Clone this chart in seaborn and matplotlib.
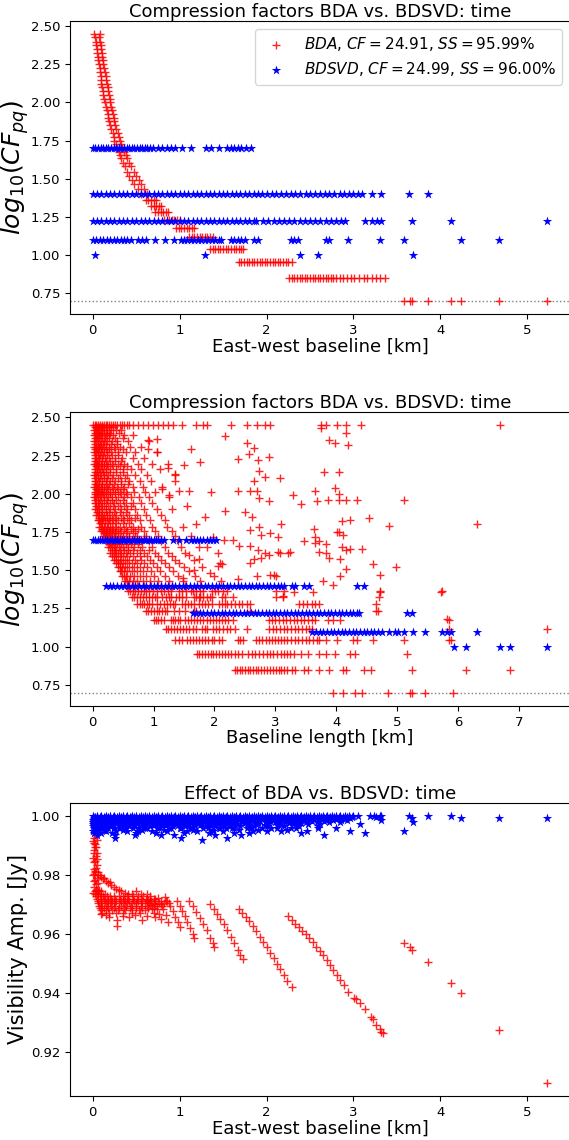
import numpy as np
import pandas as pd
import matplotlib
matplotlib.use("Agg")
import matplotlib.pyplot as plt
import seaborn as sns

plt.rcParams['font.family'] = ['DejaVu Sans']
plt.rcParams['mathtext.fontset'] = 'dejavusans'

# ---------------- labels ----------------
TITLE_CF = "Compression factors BDA vs. BDSVD: time"
TITLE_AMP = "Effect of BDA vs. BDSVD: time"
XLABEL_EW = "East-west baseline [km]"
XLABEL_BL = "Baseline length [km]"
YLABEL_CF = r"$log_{10}(CF_{pq})$"
YLABEL_AMP = "Visibility Amp. [Jy]"
LABEL_BDA = r"$BDA$, $CF = 24.91$, $SS = 95.99\%$"
LABEL_SVD = r"$BDSVD$, $CF = 24.99$, $SS = 96.00\%$"
CF_FLOOR = 5

# ---------------- panel 1: BDA vs east-west baseline ----------------
ew_curve_cf = [280, 270, 251, 240, 225, 212, 200, 189, 178, 168, 158, 149, 141, 133, 126, 119,
               112, 106, 100, 94, 89, 84, 79, 75, 71, 67, 63, 59, 56, 53, 50, 47, 45, 43, 40,
               38, 35, 33, 31, 29, 27, 25]
ew_curve_x_in = [0.02, 0.03, 0.04, 0.04, 0.05, 0.05, 0.06, 0.06, 0.07, 0.08, 0.08, 0.09, 0.10,
                 0.10, 0.11, 0.12, 0.12, 0.13, 0.14, 0.15, 0.16, 0.17, 0.18, 0.19, 0.20, 0.21,
                 0.23, 0.24, 0.25, 0.27, 0.28, 0.30, 0.31, 0.33, 0.35, 0.37, 0.40, 0.42, 0.45,
                 0.48, 0.52, 0.55]
ew_curve_x_out = [0.08, 0.07, 0.08, 0.09, 0.10, 0.11, 0.11, 0.12, 0.12, 0.13, 0.14, 0.15, 0.15,
                  0.16, 0.17, 0.18, 0.19, 0.20, 0.20, 0.21, 0.22, 0.23, 0.24, 0.25, 0.26, 0.27,
                  0.29, 0.30, 0.31, 0.33, 0.34, 0.36, 0.38, 0.40, 0.42, 0.44, 0.47, 0.50, 0.53,
                  0.56, 0.59, 0.62]

ew_bda_levels = [23, 21, 19, 17, 15, 13, 11, 9, 7, 5]
ew_bda_rows = [
    [0.61, 0.64, 0.67, 0.70, 0.73],
    [0.67, 0.70, 0.73, 0.76, 0.78],
    [0.72, 0.75, 0.78, 0.81, 0.84, 0.87],
    [0.82, 0.85, 0.88, 0.91, 0.94, 0.97, 1.00],
    [0.96, 0.99, 1.02, 1.05, 1.08, 1.11, 1.14, 1.17],
    [1.11, 1.14, 1.17, 1.20, 1.23, 1.26, 1.29, 1.32, 1.35, 1.38],
    [1.35, 1.38, 1.41, 1.44, 1.47, 1.50, 1.53, 1.56, 1.59, 1.62, 1.65, 1.68, 1.71, 1.73],
    [1.68, 1.71, 1.74, 1.77, 1.80, 1.83, 1.86, 1.89, 1.92, 1.95, 1.98, 2.01, 2.04, 2.07,
     2.10, 2.13, 2.16, 2.19, 2.22, 2.25, 2.29],
    [2.26, 2.29, 2.32, 2.35, 2.38, 2.41, 2.44, 2.47, 2.50, 2.53, 2.56, 2.59, 2.62, 2.65,
     2.68, 2.71, 2.74, 2.77, 2.80, 2.84, 2.88, 2.93, 2.97, 3.01, 3.06, 3.12, 3.16, 3.21,
     3.26, 3.31, 3.36],
    [3.58, 3.65, 3.67, 3.86, 4.12, 4.24, 4.68, 5.23],
]

svd_levels = [50, 25, 50 / 3, 12.5, 10]
ew_svd_rows = [
    [0.0, 0.03, 0.06, 0.09, 0.12, 0.15, 0.18, 0.21, 0.24, 0.27, 0.30, 0.33, 0.36, 0.39, 0.42,
     0.45, 0.48, 0.51, 0.54, 0.57, 0.60, 0.63, 0.66, 0.69, 0.75, 0.80, 0.85, 0.90, 0.95, 1.03,
     1.13, 1.30, 1.36, 1.45, 1.55, 1.59, 1.63, 1.67, 1.71, 1.76, 1.82],
    [0.0, 0.05, 0.1, 0.15, 0.2, 0.25, 0.3, 0.35, 0.4, 0.45, 0.5, 0.55, 0.6, 0.65, 0.7, 0.75,
     0.8, 0.85, 0.9, 0.95, 1.0, 1.05, 1.1, 1.15, 1.2, 1.25, 1.3, 1.35, 1.4, 1.45, 1.5, 1.55,
     1.6, 1.65, 1.7, 1.75, 1.8, 1.85, 1.9, 1.95, 2.0, 2.06, 2.11, 2.17, 2.22, 2.28, 2.33,
     2.39, 2.45, 2.5, 2.56, 2.61, 2.67, 2.72, 2.78, 2.84, 2.89, 2.95, 3.0, 3.05, 3.1, 3.21,
     3.32, 3.64, 3.86],
    [0.0, 0.05, 0.1, 0.15, 0.2, 0.25, 0.3, 0.35, 0.4, 0.45, 0.5, 0.55, 0.6, 0.65, 0.7, 0.75,
     0.8, 0.85, 0.9, 0.95, 1.0, 1.05, 1.1, 1.15, 1.2, 1.25, 1.3, 1.35, 1.4, 1.45, 1.5, 1.55,
     1.6, 1.65, 1.7, 1.75, 1.8, 1.85, 1.88, 1.96, 2.02, 2.08, 2.14, 2.2, 2.26, 2.32, 2.38,
     2.44, 2.5, 2.56, 2.62, 2.68, 2.74, 2.8, 2.86, 2.9, 3.13, 3.21, 3.27, 3.32, 3.67, 4.12,
     5.23],
    [0.0, 0.04, 0.08, 0.12, 0.16, 0.2, 0.24, 0.28, 0.32, 0.36, 0.40, 0.44, 0.52, 0.57, 0.61,
     0.72, 0.83, 0.94, 1.01, 1.05, 1.09, 1.13, 1.17, 1.21, 1.25, 1.29, 1.33, 1.37, 1.41,
     1.45, 1.48, 1.59, 1.63, 1.67, 1.71, 1.75, 1.86, 1.90, 2.28, 2.32, 2.36, 2.68, 2.72,
     2.94, 3.30, 3.58, 4.24, 4.68],
    [0.03, 1.29, 2.38, 2.59, 3.68],
]

# ---------------- panel 2: BDA vs baseline length ----------------
bl_bda_levels = [280, 263, 241, 221, 203, 187, 171, 157, 145, 133, 121, 111, 103, 95, 87, 79,
                 73, 67, 61, 57, 53, 49, 45, 41, 39, 37, 35, 33, 31, 29, 27, 25,
                 23, 21, 19, 17, 15, 13, 11, 9, 7, 5]
bl_bda_rows = [
    [0.0, 0.03, 0.06, 0.09, 0.12, 0.15, 0.18, 0.21, 0.24, 0.27, 0.30, 0.33, 0.36, 0.40, 0.44,
     0.48, 0.52, 0.56, 0.60, 0.67, 0.75, 0.83, 0.91, 0.99, 1.07, 1.15, 1.24, 1.32, 1.47,
     1.70, 1.82, 1.87, 2.27, 2.53, 2.70, 2.83, 2.92, 3.75, 3.83, 4.01, 4.16, 4.41, 6.70],
    [0.02, 0.05, 0.08, 0.11, 0.15, 0.19, 0.24, 0.30, 0.38, 0.47],
    [0.02, 0.05, 0.08, 0.12, 0.16, 0.21, 0.27, 0.34, 0.52, 0.66],
    [0.02, 0.05, 0.09, 0.13, 0.18, 0.23, 0.31, 0.40, 0.58, 0.93],
    [0.02, 0.06, 0.10, 0.14, 0.19, 0.26, 0.35, 0.45, 0.62, 0.80],
    [0.02, 0.05, 0.09, 0.13, 0.18, 0.24, 0.30, 0.42, 0.55, 0.70, 1.05],
    [0.03, 0.06, 0.10, 0.15, 0.20, 0.27, 0.36, 0.48, 0.66, 0.85],
    [0.02, 0.05, 0.09, 0.13, 0.18, 0.24, 0.32, 0.41, 0.52, 0.75, 0.98, 1.23],
    [0.03, 0.07, 0.11, 0.16, 0.22, 0.29, 0.38, 0.50, 0.63, 0.80, 1.10],
    [0.02, 0.05, 0.09, 0.14, 0.19, 0.25, 0.33, 0.44, 0.57, 0.70, 0.90, 1.35],
    [0.03, 0.06, 0.10, 0.15, 0.21, 0.28, 0.36, 0.47, 0.60, 0.78, 0.95],
    [0.02, 0.05, 0.09, 0.13, 0.18, 0.24, 0.31, 0.40, 0.52, 0.66, 0.82, 1.14],
    [0.03, 0.07, 0.11, 0.16, 0.22, 0.29, 0.37, 0.45, 0.55, 0.68, 0.86, 1.02],
    [0.02, 0.05, 0.09, 0.14, 0.19, 0.25, 0.32, 0.41, 0.51, 0.63, 0.76, 0.93, 1.26],
    [0.03, 0.06, 0.10, 0.15, 0.21, 0.28, 0.35, 0.44, 0.54, 0.66, 0.80, 0.98],
    [0.03, 0.07, 0.11, 0.16, 0.22, 0.29, 0.37, 0.46, 0.57, 0.70, 0.85, 1.05, 1.30],
    [0.05, 0.09, 0.13, 0.18, 0.24, 0.31, 0.39, 0.49, 0.60, 0.73, 0.88, 1.12],
    [0.08, 0.11, 0.15, 0.20, 0.26, 0.33, 0.41, 0.51, 0.63, 0.77, 0.94, 1.18],
    [0.11, 0.14, 0.18, 0.23, 0.29, 0.36, 0.44, 0.54, 0.66, 0.80, 0.97, 1.22, 1.48],
    [0.14, 0.17, 0.21, 0.26, 0.32, 0.39, 0.47, 0.57, 0.69, 0.84, 1.02, 1.30],
    [0.17, 0.20, 0.24, 0.29, 0.35, 0.42, 0.50, 0.60, 0.72, 0.88, 1.08, 1.35, 1.62],
    [0.21, 0.24, 0.28, 0.33, 0.39, 0.46, 0.54, 0.64, 0.76, 0.92, 1.12, 1.40],
    [0.25, 0.28, 0.32, 0.37, 0.43, 0.50, 0.58, 0.68, 0.81, 0.97, 1.18, 1.45, 1.75],
    [0.29, 0.32, 0.36, 0.41, 0.47, 0.54, 0.62, 0.72, 0.85, 1.02, 1.24, 1.52],
    [0.32, 0.35, 0.39, 0.44, 0.50, 0.57, 0.66, 0.77, 0.90, 1.08, 1.30],
    [0.35, 0.38, 0.42, 0.47, 0.53, 0.60, 0.69, 0.80, 0.94, 1.12, 1.36, 1.66],
    [0.38, 0.41, 0.45, 0.50, 0.56, 0.64, 0.73, 0.85, 0.99, 1.18, 1.42],
    [0.41, 0.44, 0.48, 0.53, 0.60, 0.68, 0.78, 0.90, 1.05, 1.25, 1.50, 1.80],
    [0.44, 0.47, 0.51, 0.57, 0.64, 0.72, 0.82, 0.95, 1.11, 1.32, 1.58],
    [0.48, 0.51, 0.55, 0.61, 0.68, 0.77, 0.88, 1.01, 1.18, 1.40, 1.68, 2.00],
    [0.53, 0.56, 0.60, 0.66, 0.73, 0.82, 0.94, 1.08, 1.25, 1.48, 1.76, 2.10],
    [0.56, 0.60, 0.66, 0.74, 0.84, 0.96, 1.12, 1.30, 1.52],
    [0.58, 0.62, 0.66, 0.70, 0.74, 0.79, 0.84, 0.88, 0.93, 0.99, 1.05, 1.12, 1.17, 1.23,
     1.28, 1.41, 1.47, 1.53, 1.61, 1.65, 1.69, 1.76, 1.82, 1.96, 2.01, 2.06, 2.14, 2.21,
     3.01, 3.14, 4.72, 5.74],
    [0.64, 0.68, 0.72, 0.77, 0.82, 0.87, 0.92, 0.97, 1.02, 1.06, 1.14, 1.20, 1.25, 1.28,
     1.37, 1.42, 1.47, 1.53, 1.66, 1.70, 1.74, 1.77, 1.82, 1.87, 1.92, 1.96, 2.12, 2.18,
     2.30, 3.01, 3.12, 4.71],
    [0.73, 0.77, 0.81, 0.85, 0.89, 0.93, 0.97, 1.06, 1.11, 1.17, 1.22, 1.27, 1.32, 1.36,
     1.47, 1.52, 1.57, 1.62, 1.66, 1.74, 1.79, 1.84, 1.90, 1.96, 2.07, 2.12, 2.17, 2.20,
     2.28, 2.34, 2.40, 2.45, 2.53, 2.59, 3.39, 3.45, 3.52, 3.60, 3.66, 3.72, 4.66],
    [0.87, 0.91, 0.95, 1.00, 1.05, 1.09, 1.14, 1.18, 1.22, 1.33, 1.41, 1.52, 1.66, 1.70,
     2.59, 4.66, 4.69],
    [1.00, 1.04, 1.08, 1.12, 1.17, 1.28, 1.32, 1.36, 1.40, 1.44, 1.52, 1.56, 1.61, 1.66,
     1.71, 1.77, 1.82, 1.87, 1.92, 1.98, 2.03, 2.08, 2.13, 2.17, 2.23, 2.31, 2.89, 2.95,
     3.00, 3.06, 3.12, 3.18, 3.24, 3.30, 3.36, 3.42, 3.48, 3.54, 3.60, 3.66, 3.86, 3.95,
     4.07, 5.85],
    [1.20, 1.24, 1.28, 1.33, 1.38, 1.44, 1.49, 1.54, 1.59, 1.64, 1.69, 1.79, 1.84, 1.88,
     1.98, 2.03, 2.08, 2.14, 2.20, 2.26, 2.34, 2.53, 2.90, 2.96, 3.02, 3.08, 3.14, 3.20,
     3.26, 3.32, 3.38, 3.44, 3.50, 3.56, 3.60, 5.85, 7.47],
    [1.36, 1.41, 1.47, 1.55, 1.60, 1.65, 1.70, 1.75, 1.80, 1.85, 1.90, 1.96, 2.00, 2.07,
     2.12, 2.38, 2.42, 2.47, 2.68, 2.73, 2.78, 2.84, 2.90, 2.95, 2.99, 3.04, 3.09, 3.15,
     3.20, 3.26, 3.32, 3.38, 3.44, 3.50, 3.56, 3.62, 3.68, 3.72, 3.83, 4.01, 4.28, 4.34,
     4.60, 5.11, 5.88],
    [1.71, 1.75, 1.79, 1.84, 1.89, 1.94, 1.98, 2.03, 2.08, 2.13, 2.17, 2.23, 2.28, 2.33,
     2.38, 2.45, 2.55, 2.62, 2.66, 2.74, 2.80, 2.86, 2.92, 2.97, 3.03, 3.09, 3.15, 3.20,
     3.24, 3.30, 3.42, 3.54, 3.72, 3.83, 3.98, 4.22, 4.31, 5.17],
    [2.33, 2.37, 2.42, 2.46, 2.50, 2.55, 2.58, 2.63, 2.68, 2.72, 2.77, 2.82, 2.86, 2.91,
     2.96, 3.01, 3.06, 3.10, 3.15, 3.20, 3.27, 3.33, 3.48, 3.54, 3.72, 3.89, 4.12, 4.16,
     4.46, 4.57, 5.25, 6.14, 6.86],
    [3.95, 4.12, 4.31, 4.43, 4.85, 5.22, 5.25, 5.46, 5.92],
]

# extra BDA rows filling the dense corner of panel 2 (short baselines)
bl_fill_levels = [272, 251, 231, 211, 195, 179, 164, 151, 139, 127, 115, 107, 99, 91, 83, 76,
                  69, 64, 59, 55, 51, 47, 43]
bl_fill_rows = [
    [0.035, 0.07, 0.105, 0.14, 0.17, 0.21, 0.26, 0.33],
    [0.035, 0.065, 0.10, 0.14, 0.18, 0.23, 0.29, 0.43],
    [0.035, 0.07, 0.11, 0.155, 0.20, 0.27, 0.36, 0.49],
    [0.04, 0.08, 0.12, 0.165, 0.22, 0.30, 0.40],
    [0.035, 0.07, 0.11, 0.155, 0.21, 0.27, 0.37, 0.50],
    [0.045, 0.08, 0.125, 0.175, 0.23, 0.31, 0.42],
    [0.035, 0.07, 0.11, 0.155, 0.21, 0.28, 0.37, 0.46],
    [0.05, 0.09, 0.135, 0.19, 0.25, 0.33, 0.44, 0.56],
    [0.035, 0.07, 0.115, 0.165, 0.22, 0.29, 0.39, 0.50],
    [0.045, 0.08, 0.125, 0.18, 0.24, 0.32, 0.41, 0.53],
    [0.035, 0.07, 0.11, 0.155, 0.21, 0.27, 0.35, 0.46, 0.58],
    [0.05, 0.09, 0.135, 0.19, 0.25, 0.33, 0.41, 0.50],
    [0.035, 0.07, 0.115, 0.165, 0.22, 0.28, 0.36, 0.46, 0.57],
    [0.045, 0.085, 0.125, 0.18, 0.24, 0.31, 0.39, 0.49],
    [0.05, 0.09, 0.135, 0.19, 0.25, 0.33, 0.41, 0.51, 0.63],
    [0.07, 0.11, 0.155, 0.21, 0.27, 0.35, 0.44, 0.54],
    [0.095, 0.13, 0.175, 0.23, 0.29, 0.37, 0.46, 0.57, 0.70],
    [0.125, 0.16, 0.20, 0.25, 0.31, 0.39, 0.49, 0.60],
    [0.155, 0.19, 0.235, 0.28, 0.34, 0.42, 0.52, 0.63, 0.75],
    [0.185, 0.22, 0.265, 0.31, 0.37, 0.45, 0.55, 0.67],
    [0.22, 0.255, 0.30, 0.35, 0.41, 0.49, 0.59, 0.70, 0.84],
    [0.265, 0.30, 0.345, 0.40, 0.46, 0.54, 0.63, 0.75],
    [0.31, 0.345, 0.39, 0.44, 0.51, 0.58, 0.67, 0.78, 0.92],
]

# scattered BDA points of panel 2: (baseline km, log10 CF)
bl_bda_sparse = [
    (2.18, 2.38), (1.62, 2.29), (0.91, 2.35), (1.05, 2.36), (1.05, 2.27), (0.91, 2.29),
    (2.54, 2.33), (2.65, 2.30), (2.56, 2.26), (2.71, 2.22), (2.89, 2.24), (2.38, 2.23),
    (3.75, 2.43), (3.89, 2.35), (3.98, 2.33), (4.16, 2.40), (4.19, 2.32), (3.80, 2.14),
    (4.04, 2.14), (3.98, 2.04), (1.50, 2.19), (1.23, 2.17), (1.35, 2.13), (1.35, 2.08),
    (1.14, 2.03), (1.26, 1.99), (1.41, 2.02), (1.59, 2.02), (2.74, 2.15), (2.83, 2.11),
    (2.65, 2.08), (2.59, 2.02), (2.70, 2.02), (2.74, 1.97), (2.89, 1.95), (3.07, 2.10),
    (2.38, 2.02), (2.18, 1.89), (2.50, 1.88), (2.62, 1.85), (2.59, 1.76), (2.74, 1.78),
    (2.77, 1.73), (2.92, 1.74), (3.09, 1.80), (3.05, 1.72), (3.29, 1.99), (3.42, 1.93),
    (3.66, 2.02), (3.69, 1.95), (3.86, 1.96), (4.04, 1.96), (4.04, 2.00), (4.16, 1.96),
    (4.34, 1.96), (5.11, 1.96), (3.63, 1.77), (3.66, 1.72), (4.01, 1.75), (4.04, 1.75),
    (4.12, 1.73), (4.10, 1.82), (4.22, 1.83), (4.54, 1.84), (4.87, 1.79), (6.32, 1.80),
    (3.48, 1.69), (3.72, 1.69), (3.83, 1.67), (3.72, 1.62), (3.89, 1.58), (4.10, 1.65),
    (4.16, 1.63), (4.22, 1.64), (4.43, 1.64), (4.07, 1.57), (4.16, 1.51), (4.60, 1.54),
    (4.72, 1.47), (4.99, 1.52), (2.06, 1.53), (2.30, 1.70), (2.41, 1.66), (2.59, 1.55),
    (2.65, 1.57), (2.77, 1.58), (2.89, 1.60), (3.04, 1.62), (3.21, 1.61), (2.15, 1.70),
    (2.06, 1.61), (2.09, 1.55), (2.59, 1.66), (2.71, 1.63), (2.83, 1.61), (3.07, 1.61),
    (3.25, 1.62), (3.66, 1.68), (3.83, 1.61), (2.92, 1.47), (2.98, 1.47), (2.38, 1.44),
    (2.12, 1.54), (2.70, 1.46), (3.01, 1.46), (3.78, 1.43), (3.95, 1.40), (4.07, 1.46),
    (4.72, 1.36), (3.12, 1.33), (3.30, 1.36), (3.62, 1.36), (5.72, 1.36), (5.82, 1.18),
    (5.85, 1.04), (1.77, 2.21), (1.95, 2.01), (1.85, 1.85), (1.55, 1.92), (1.70, 1.80),
    (1.98, 1.72), (1.87, 1.65), (1.58, 1.60), (1.75, 1.57), (1.66, 1.50), (1.92, 1.48),
    (1.48, 1.45),
]

bl_svd_rows = [
    [0.0, 0.04, 0.08, 0.12, 0.16, 0.2, 0.24, 0.28, 0.32, 0.36, 0.4, 0.44, 0.48, 0.52, 0.56,
     0.6, 0.64, 0.68, 0.72, 0.76, 0.8, 0.84, 0.88, 0.92, 0.96, 1.0, 1.04, 1.08, 1.12, 1.17,
     1.32, 1.41, 1.53, 1.62, 1.67, 1.72, 1.77, 1.82, 1.87, 1.92, 1.97, 2.03],
    [0.22, 0.28, 0.34, 0.40, 0.46, 0.52, 0.58, 0.64, 0.70, 0.76, 0.82, 0.88, 0.94, 1.00,
     1.06, 1.12, 1.18, 1.24, 1.30, 1.36, 1.42, 1.48, 1.54, 1.60, 1.66, 1.72, 1.78, 1.84,
     1.90, 1.96, 2.02, 2.08, 2.14, 2.20, 2.26, 2.32, 2.38, 2.44, 2.50, 2.56, 2.62, 2.68,
     2.74, 2.80, 2.86, 2.92, 2.98, 3.04, 3.10, 3.15, 3.27, 3.33, 3.48, 3.55, 4.34, 4.46],
    [1.64, 1.70, 1.76, 1.82, 1.88, 1.94, 2.00, 2.06, 2.12, 2.18, 2.24, 2.30, 2.36, 2.42,
     2.48, 2.54, 2.60, 2.66, 2.72, 2.78, 2.84, 2.90, 2.96, 3.02, 3.08, 3.14, 3.20, 3.26,
     3.32, 3.38, 3.44, 3.50, 3.56, 3.62, 3.68, 3.74, 3.80, 3.86, 3.92, 3.98, 4.04, 4.10,
     4.16, 4.22, 4.28, 4.34, 4.37, 5.17, 5.25],
    [3.61, 3.67, 3.73, 3.79, 3.85, 3.91, 3.97, 4.03, 4.09, 4.15, 4.21, 4.27, 4.33, 4.39,
     4.45, 4.51, 4.57, 4.63, 4.69, 4.75, 4.87, 4.96, 5.02, 5.12, 5.27, 5.46, 5.74, 5.82,
     5.88, 6.32],
    [5.93, 6.14, 6.70, 6.86, 7.47],
]

# ---------------- panel 3: visibility amplitude ----------------
amp_bda_column = [
    (0.00, 0.9985), (0.01, 0.9965), (0.02, 0.9945), (0.01, 0.9925), (0.03, 0.9905),
    (0.02, 0.9885), (0.04, 0.9865), (0.02, 0.9845), (0.04, 0.9825), (0.02, 0.9805),
    (0.05, 0.9790), (0.01, 0.9780), (0.04, 0.9770), (0.02, 0.9760), (0.05, 0.9750),
    (0.00, 0.9740), (0.03, 0.9895), (0.05, 0.9875), (0.05, 0.9835), (0.00, 0.9800),
    (0.06, 0.9810), (0.03, 0.9955), (0.00, 0.9915), (0.05, 0.9920), (0.03, 0.9850),
    (0.00, 0.9860), (0.04, 0.9935), (0.01, 0.9820), (0.03, 0.9785), (0.06, 0.9775),
    (0.01, 0.9875), (0.04, 0.9895), (0.02, 0.9910), (0.05, 0.9855), (0.03, 0.9815),
]
amp_bda_branch = [
    (0.03, 0.9810), (0.06, 0.9802), (0.09, 0.9795), (0.12, 0.9788), (0.15, 0.9781),
    (0.18, 0.9774), (0.21, 0.9767), (0.24, 0.9761), (0.27, 0.9755), (0.30, 0.9750),
    (0.33, 0.9745), (0.37, 0.9741), (0.41, 0.9738), (0.08, 0.9800), (0.13, 0.9792),
    (0.20, 0.9776),
]
amp_blob_levels = [0.9749, 0.9745, 0.9737, 0.9729, 0.9721, 0.9713, 0.9705, 0.9697, 0.9689,
                   0.9681, 0.9673]
amp_blob_rows = [
    [0.04, 0.07],
    [0.03, 0.06, 0.09, 0.50],
    [0.03, 0.06, 0.10, 0.14, 0.45, 0.55, 0.62],
    [0.04, 0.08, 0.12, 0.16, 0.20, 0.25, 0.30, 0.35, 0.40, 0.46, 0.52, 0.58, 0.66],
    [0.05, 0.09, 0.13, 0.17, 0.21, 0.26, 0.31, 0.36, 0.41, 0.46, 0.51, 0.56, 0.61, 0.66, 0.72],
    [0.06, 0.10, 0.14, 0.18, 0.22, 0.27, 0.32, 0.37, 0.42, 0.47, 0.52, 0.57, 0.62, 0.67,
     0.72, 0.78, 0.84],
    [0.06, 0.10, 0.15, 0.20, 0.25, 0.30, 0.35, 0.40, 0.45, 0.50, 0.55, 0.60, 0.65, 0.70,
     0.76, 0.82, 0.88],
    [0.07, 0.11, 0.16, 0.21, 0.26, 0.32, 0.38, 0.44, 0.50, 0.56, 0.62, 0.68, 0.74, 0.80],
    [0.08, 0.13, 0.18, 0.24, 0.30, 0.36, 0.43, 0.50, 0.57, 0.64, 0.71],
    [0.09, 0.15, 0.22, 0.29, 0.37, 0.45, 0.53, 0.60],
    [0.11, 0.19, 0.27, 0.35, 0.45, 0.54],
]
amp_bda_outliers = [
    (0.09, 0.9670), (0.19, 0.9658), (0.285, 0.9647), (0.285, 0.9627), (0.42, 0.9658),
    (0.57, 0.9647), (0.49, 0.9665), (0.35, 0.9660), (0.15, 0.9664), (0.62, 0.9662),
]
amp_bda_streaks = [
    (0.64, 0.9715), (0.66, 0.9700), (0.68, 0.9686), (0.70, 0.9671), (0.72, 0.9657),
    (0.70, 0.9719), (0.72, 0.9703), (0.74, 0.9687), (0.76, 0.9670), (0.78, 0.9652),
    (0.75, 0.9723), (0.78, 0.9704), (0.81, 0.9685), (0.84, 0.9664), (0.87, 0.9642),
    (0.83, 0.9727), (0.86, 0.9711), (0.89, 0.9695), (0.92, 0.9677), (0.95, 0.9658),
    (0.98, 0.9640), (1.00, 0.9626),
    (0.97, 0.9711), (1.00, 0.9695), (1.03, 0.9678), (1.06, 0.9660), (1.09, 0.9642),
    (1.12, 0.9622), (1.15, 0.9601), (1.17, 0.9587),
    (1.11, 0.9712), (1.15, 0.9695), (1.19, 0.9676), (1.23, 0.9656), (1.27, 0.9635),
    (1.31, 0.9613), (1.35, 0.9588), (1.38, 0.9570), (1.40, 0.9558),
    (1.35, 0.9703), (1.39, 0.9687), (1.43, 0.9670), (1.47, 0.9652), (1.51, 0.9633),
    (1.55, 0.9613), (1.59, 0.9592), (1.63, 0.9570), (1.67, 0.9547), (1.70, 0.9530),
    (1.73, 0.9515),
    (1.68, 0.9687), (1.72, 0.9673), (1.76, 0.9659), (1.80, 0.9645), (1.84, 0.9628),
    (1.88, 0.9610), (1.92, 0.9592), (1.96, 0.9574), (2.00, 0.9555), (2.04, 0.9537),
    (2.08, 0.9519), (2.12, 0.9500), (2.16, 0.9481), (2.20, 0.9461), (2.24, 0.9441),
    (2.29, 0.9420),
    (2.25, 0.9660), (2.29, 0.9648), (2.33, 0.9636), (2.37, 0.9624), (2.41, 0.9612),
    (2.45, 0.9599), (2.49, 0.9586), (2.53, 0.9572), (2.57, 0.9558), (2.61, 0.9543),
    (2.65, 0.9528), (2.69, 0.9512), (2.73, 0.9496), (2.77, 0.9479), (2.81, 0.9462),
    (2.85, 0.9445), (2.89, 0.9427), (2.94, 0.9405), (3.01, 0.9385), (3.03, 0.9380),
    (3.07, 0.9368), (3.13, 0.9345), (3.20, 0.9318), (3.22, 0.9312), (3.26, 0.9292),
    (3.30, 0.9278), (3.32, 0.9268), (3.34, 0.9264),
]
amp_bda_isolated = [
    (3.58, 0.9570), (3.65, 0.9556), (3.67, 0.9548), (3.86, 0.9505), (4.12, 0.9434),
    (4.24, 0.9402), (4.68, 0.9276), (5.23, 0.9096),
]

amp_svd_levels = [1.0, 0.9997, 0.9994, 0.9990, 0.9987, 0.9983, 0.9980, 0.9976, 0.9973,
                  0.9969, 0.9966, 0.9962, 0.9959, 0.9955, 0.9951, 0.9944, 0.9936, 0.9926,
                  0.9918]
amp_svd_rows = [
    [0.0, 0.05, 0.1, 0.15, 0.2, 0.25, 0.3, 0.35, 0.4, 0.45, 0.5, 0.55, 0.6, 0.65, 0.7, 0.75,
     0.8, 0.85, 0.9, 0.95, 1.0, 1.05, 1.1, 1.15, 1.2, 1.25, 1.3, 1.35, 1.4, 1.45, 1.5, 1.55,
     1.6, 1.65, 1.7, 1.75, 1.8, 1.85, 1.9, 1.95, 2.0, 2.05, 2.1, 2.15, 2.2, 2.25, 2.3, 2.35,
     2.4, 2.45, 2.5, 2.55, 2.6, 2.65, 2.7, 2.75, 2.8, 2.85, 2.9, 2.95, 3.0, 3.05, 3.19,
     3.24, 3.30, 3.32, 3.64, 3.86, 4.12],
    [0.03, 0.08, 0.13, 0.18, 0.23, 0.28, 0.33, 0.38, 0.43, 0.48, 0.53, 0.58, 0.63, 0.68,
     0.73, 0.78, 0.83, 0.88, 0.93, 0.98, 1.03, 1.08, 1.13, 1.18, 1.23, 1.28, 1.33, 1.38,
     1.43, 1.48, 1.53, 1.58, 1.63, 1.68, 1.73, 1.78, 1.83, 1.88, 1.93, 1.98, 2.03, 2.08,
     2.13, 2.18, 2.23, 2.28, 2.33, 2.38, 2.43, 2.48, 2.53, 2.58, 2.63, 2.68, 2.73, 2.78,
     2.83, 2.88, 2.93, 2.98, 3.26],
    [0.02, 0.08, 0.14, 0.2, 0.26, 0.32, 0.38, 0.44, 0.5, 0.56, 0.62, 0.68, 0.74, 0.8, 0.86,
     0.92, 0.98, 1.04, 1.1, 1.16, 1.22, 1.28, 1.34, 1.4, 1.46, 1.52, 1.58, 1.64, 1.7, 1.76,
     1.82, 1.88, 1.94, 2.0, 2.06, 2.12, 2.18, 2.24, 2.3, 2.36, 2.42, 2.48, 2.54, 2.6, 2.66,
     2.72, 2.78, 2.84, 2.9, 2.96, 3.67, 4.24, 4.68, 5.23],
    [0.01, 0.06, 0.12, 0.18, 0.24, 0.3, 0.36, 0.42, 0.48, 0.55, 0.61, 0.67, 0.73, 0.79,
     0.85, 0.91, 0.97, 1.04, 1.1, 1.16, 1.22, 1.29, 1.35, 1.42, 1.49, 1.56, 1.63, 1.7,
     1.78, 1.86, 1.95, 2.04, 2.13, 2.22, 2.31, 2.4, 2.5, 2.6, 2.7, 2.8, 2.9],
    [0.0, 0.05, 0.11, 0.17, 0.24, 0.3, 0.37, 0.43, 0.5, 0.57, 0.63, 0.7, 0.76, 0.83, 0.9,
     0.97, 1.03, 1.1, 1.17, 1.24, 1.31, 1.38, 1.45, 1.52, 1.6, 1.68, 1.75, 1.83, 1.91, 1.99,
     2.07, 2.16, 2.25, 2.34, 2.42, 2.5, 2.6, 2.68, 2.77, 2.86, 2.93, 3.32],
    [0.02, 0.07, 0.13, 0.2, 0.27, 0.34, 0.41, 0.48, 0.56, 0.64, 0.72, 0.8, 0.88, 0.96, 1.04,
     1.12, 1.2, 1.28, 1.37, 1.46, 1.55, 1.64, 1.73, 1.83, 1.93, 2.04, 2.15, 2.27, 2.39,
     2.52, 2.66],
    [0.0, 0.04, 0.1, 0.16, 0.23, 0.31, 0.39, 0.46, 0.54, 0.61, 0.69, 0.78, 0.86, 0.95, 1.02,
     1.1, 1.19, 1.28, 1.36, 1.45, 1.54, 1.62, 1.72, 1.81, 1.9, 2.0, 2.1, 2.21, 2.33, 2.45,
     2.58, 2.72, 2.85, 3.68],
    [0.01, 0.06, 0.13, 0.2, 0.27, 0.35, 0.44, 0.52, 0.6, 0.7, 0.8, 0.9, 0.99, 1.09, 1.2,
     1.31, 1.4, 1.5, 1.6, 1.75, 1.87, 2.0, 2.13, 2.26, 2.4],
    [0.0, 0.03, 0.08, 0.14, 0.22, 0.3, 0.4, 0.48, 0.58, 0.67, 0.75, 0.85, 0.96, 1.05, 1.15,
     1.25, 1.34, 1.44, 1.55, 1.66, 1.78, 1.9, 2.02, 2.15, 2.3, 2.48, 2.62, 3.07],
    [0.02, 0.09, 0.16, 0.25, 0.36, 0.47, 0.6, 0.71, 0.84, 0.98, 1.1, 1.23, 1.36, 1.5,
     1.64, 1.8, 1.98, 2.12, 2.35],
    [0.0, 0.05, 0.12, 0.2, 0.33, 0.42, 0.55, 0.66, 0.8, 0.92, 1.06, 1.18, 1.3, 1.41, 1.58,
     1.7, 1.86, 2.0, 2.2, 2.37, 2.59],
    [0.03, 0.1, 0.24, 0.38, 0.52, 0.63, 0.76, 0.88, 1.02, 1.14, 1.33, 1.47, 1.6, 1.82,
     2.05, 2.28],
    [0.02, 0.09, 0.18, 0.3, 0.46, 0.6, 0.74, 0.9, 1.0, 1.12, 1.27, 1.45, 1.53, 1.62, 1.78,
     1.95, 2.12, 2.34, 2.59, 2.8],
    [0.04, 0.13, 0.35, 0.57, 0.82, 1.15, 1.37, 1.68, 1.9, 2.24],
    [0.0, 0.06, 0.15, 0.27, 0.4, 0.52, 0.68, 0.86, 1.08, 1.2, 1.38, 1.5, 1.84, 2.01, 2.17,
     2.46, 2.96, 3.58],
    [0.02, 0.1, 0.22, 0.5, 0.73, 1.05, 1.34, 1.63, 1.8, 2.4, 3.13],
    [0.05, 0.26, 0.49, 0.79, 0.93, 1.41, 1.71, 2.66],
    [0.26, 1.01, 1.55],
    [1.26],
]


# ---------------- helpers to build tables ----------------
def rows_frame(levels, rows):
    xs, ys = [], []
    for lv, r in zip(levels, rows):
        xs.extend(r)
        ys.extend([lv] * len(r))
    return pd.DataFrame({"x": xs, "y": ys})


def pairs_frame(*groups):
    pts = [p for g in groups for p in g]
    return pd.DataFrame(pts, columns=["x", "y"])


ew_bda = pd.concat([
    pd.DataFrame({"x": ew_curve_x_in, "y": ew_curve_cf}),
    pd.DataFrame({"x": ew_curve_x_out, "y": ew_curve_cf}),
    rows_frame(ew_bda_levels, ew_bda_rows),
], ignore_index=True)
ew_bda["y"] = np.log10(ew_bda["y"])
ew_svd = rows_frame(svd_levels, ew_svd_rows)
ew_svd["y"] = np.log10(ew_svd["y"])

bl_bda = pd.concat([rows_frame(bl_bda_levels, bl_bda_rows),
                    rows_frame(bl_fill_levels, bl_fill_rows)], ignore_index=True)
bl_bda["y"] = np.log10(bl_bda["y"])
bl_bda = pd.concat([bl_bda, pairs_frame(bl_bda_sparse)], ignore_index=True)
bl_svd = rows_frame(svd_levels, bl_svd_rows)
bl_svd["y"] = np.log10(bl_svd["y"])

amp_bda = pd.concat([
    pairs_frame(amp_bda_column, amp_bda_branch, amp_bda_outliers, amp_bda_streaks,
                amp_bda_isolated),
    rows_frame(amp_blob_levels, amp_blob_rows),
], ignore_index=True)
amp_svd = rows_frame(amp_svd_levels, amp_svd_rows)

# ---------------- figure ----------------
W, H = 569, 1140
fig = plt.figure(figsize=(W / 100, H / 100), dpi=100)
left = 70 / W
width = (570 - 70) / W


def make_ax(top_px, bottom_px):
    return fig.add_axes([left, 1 - bottom_px / H, width, (bottom_px - top_px) / H])


ax1 = make_ax(21, 314)
ax2 = make_ax(412, 706)
ax3 = make_ax(803, 1096)

RED_KW = dict(marker="+", color="red", s=32, linewidth=1.0, alpha=0.85)
BLUE_KW = dict(marker="*", color="blue", s=50, linewidth=0)


def draw(ax, red, blue, with_label=False):
    sns.scatterplot(data=red, x="x", y="y", ax=ax, label=LABEL_BDA if with_label else None,
                    zorder=2, **RED_KW)
    sns.scatterplot(data=blue, x="x", y="y", ax=ax, label=LABEL_SVD if with_label else None,
                    zorder=3, **BLUE_KW)
    leg = ax.get_legend()
    if leg is not None:
        leg.remove()


draw(ax1, ew_bda, ew_svd, with_label=True)
draw(ax2, bl_bda, bl_svd)
draw(ax3, amp_bda, amp_svd)

for ax in (ax1, ax2):
    ax.axhline(np.log10(CF_FLOOR), color="gray", linestyle=":", linewidth=1.0, zorder=1)
    ax.set_ylabel(YLABEL_CF, fontsize=18, labelpad=0)
    ax.set_title(TITLE_CF, fontsize=13, pad=3)

ax1.set_xlabel(XLABEL_EW, fontsize=13, labelpad=0.5)
ax2.set_xlabel(XLABEL_BL, fontsize=13, labelpad=0.5)
ax3.set_xlabel(XLABEL_EW, fontsize=13, labelpad=0.5)
ax3.set_ylabel(YLABEL_AMP, fontsize=15, labelpad=2)
ax3.set_title(TITLE_AMP, fontsize=13, pad=3)

for ax in (ax1, ax2, ax3):
    ax.tick_params(labelsize=9.5)

ax1.legend(loc="upper right", fontsize=11)

fig.savefig("out.png", dpi=100)
